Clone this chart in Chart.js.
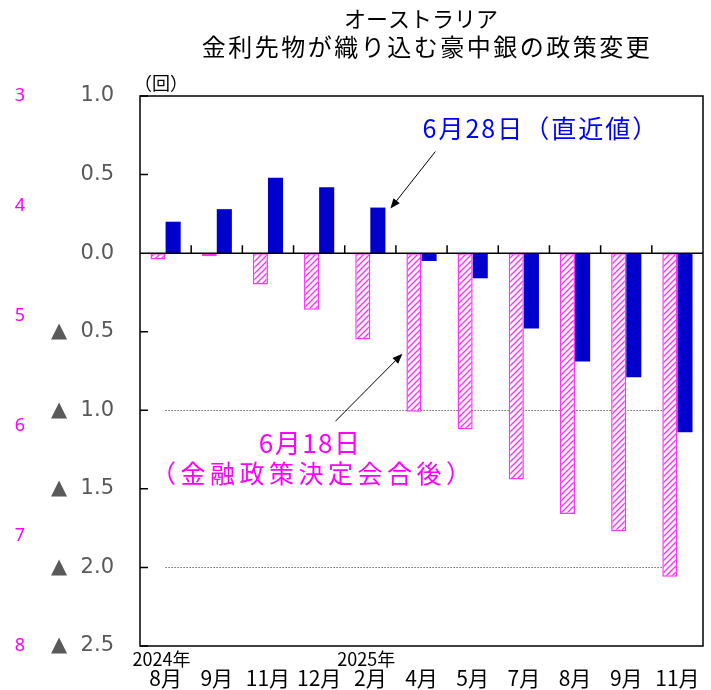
<!DOCTYPE html>
<html lang="ja">
<head>
<meta charset="UTF-8" />
<title>オーストラリア 金利先物が織り込む豪中銀の政策変更</title>
<script src="https://cdn.jsdelivr.net/npm/chart.js"></script>
<style>
  body { margin: 0; background: #fff; }
  .wrap { width: 711px; height: 690px; position: relative; }
</style>
</head>
<body>
<div class="wrap"><canvas id="rbaChart" width="711" height="690"></canvas></div>
<script>
  // data
  const years = ['2024年', '', '', '', '2025年', '', '', '', '', '', ''];
  const months = ['8月', '9月', '11月', '12月', '2月', '4月', '5月', '7月', '8月', '9月', '11月'];
  const after0618 = [-0.04, -0.02, -0.20, -0.36, -0.55, -1.01, -1.12, -1.44, -1.66, -1.77, -2.06];
  const latest0628 = [0.20, 0.28, 0.48, 0.42, 0.29, -0.05, -0.16, -0.48, -0.69, -0.79, -1.14];
  const refLines = [-1.0, -2.0];

  // blank first line leaves room for the year row drawn below
  const labels = months.map(m => [' ', m]);

  const JP = "'Noto Sans CJK JP', 'Noto Sans', sans-serif";
  const PINK = '#ff33ff';
  const BLUE = '#0000cc';

  // diagonal hatch for the 6/18 bars
  function hatch() {
    const c = document.createElement('canvas');
    c.width = 6; c.height = 6;
    const g = c.getContext('2d');
    g.fillStyle = '#fff';
    g.fillRect(0, 0, 6, 6);
    g.strokeStyle = PINK;
    g.lineWidth = 1.4;
    g.beginPath();
    g.moveTo(-3, 3); g.lineTo(3, -3);
    g.moveTo(0, 6); g.lineTo(6, 0);
    g.moveTo(3, 9); g.lineTo(9, 3);
    g.stroke();
    return g.createPattern(c, 'repeat');
  }

  function arrow(ctx, x1, y1, x2, y2) {
    const a = Math.atan2(y2 - y1, x2 - x1);
    ctx.save();
    ctx.strokeStyle = '#000';
    ctx.fillStyle = '#000';
    ctx.lineWidth = 1;
    ctx.beginPath();
    ctx.moveTo(x1, y1);
    ctx.lineTo(x2 - 6 * Math.cos(a), y2 - 6 * Math.sin(a));
    ctx.stroke();
    ctx.beginPath();
    ctx.moveTo(x2, y2);
    ctx.lineTo(x2 - 10 * Math.cos(a) + 4 * Math.sin(a), y2 - 10 * Math.sin(a) - 4 * Math.cos(a));
    ctx.lineTo(x2 - 10 * Math.cos(a) - 4 * Math.sin(a), y2 - 10 * Math.sin(a) + 4 * Math.cos(a));
    ctx.closePath();
    ctx.fill();
    ctx.restore();
  }

  function text(ctx, str, x, y, font, color, spacing) {
    ctx.save();
    ctx.font = font;
    ctx.fillStyle = color;
    ctx.textAlign = 'center';
    ctx.textBaseline = 'middle';
    ctx.letterSpacing = (spacing || 0) + 'px';
    ctx.fillText(str, x, y);
    ctx.restore();
  }

  const framePlugin = {
    id: 'frame',
    beforeDatasetsDraw(chart) {
      const { ctx, scales: { x, y } } = chart;
      ctx.save();
      ctx.strokeStyle = '#222';
      ctx.lineWidth = 1;
      ctx.setLineDash([1, 2]);
      refLines.forEach(v => {
        const py = Math.round(y.getPixelForValue(v)) + 0.5;
        ctx.beginPath();
        ctx.moveTo(x.getPixelForValue(0), py);
        ctx.lineTo(x.getPixelForValue(months.length - 1), py);
        ctx.stroke();
      });
      ctx.restore();
    },
    afterDatasetsDraw(chart) {
      const { ctx, chartArea: a, scales: { x, y } } = chart;
      ctx.save();
      ctx.strokeStyle = '#000';
      ctx.lineWidth = 1.5;
      ctx.strokeRect(a.left, a.top, a.right - a.left, a.bottom - a.top);

      // zero line with category ticks
      const y0 = y.getPixelForValue(0);
      ctx.beginPath();
      ctx.moveTo(a.left, y0);
      ctx.lineTo(a.right, y0);
      const step = (a.right - a.left) / months.length;
      for (let i = 1; i < months.length; i++) {
        const px = a.left + i * step;
        ctx.moveTo(px, y0);
        ctx.lineTo(px, y0 - 8);
      }
      // inner y ticks
      for (let v = -2.5; v <= 1.0001; v += 0.5) {
        const py = y.getPixelForValue(v);
        ctx.moveTo(a.left, py);
        ctx.lineTo(a.left + 8, py);
      }
      ctx.stroke();
      ctx.restore();

      // year row above the month labels
      years.forEach((yr, i) => {
        if (yr) text(ctx, yr, x.getPixelForValue(i) - 4, a.bottom + 13, '18px ' + JP, '#000', 0);
      });

      // annotations
      const half = step * 0.59 / 2;
      const febTop = y.getPixelForValue(latest0628[4]);
      arrow(ctx, x.getPixelForValue(4) + 65, febTop - 56, x.getPixelForValue(4) + half + 5, febTop + 1);
      text(ctx, '6月28日（直近値）', x.getPixelForValue(7) + 17, 128, '25px ' + JP, '#0000ff', 2);

      const aprPink = x.getPixelForValue(5) - half;
      arrow(ctx, aprPink - 71, y.getPixelForValue(-1.07), aprPink - 4, y.getPixelForValue(-0.64));
      text(ctx, '6月18日', x.getPixelForValue(3) - 9, 443, '26px ' + JP, '#ff00ff', 1.5);
      text(ctx, '（金融政策決定会合後）', x.getPixelForValue(3) - 6, 473, '25px ' + JP, '#ff00ff', 4.5);

      // title and unit
      text(ctx, 'オーストラリア', 421, 19, '22px ' + JP, '#000', 0);
      text(ctx, '金利先物が織り込む豪中銀の政策変更', 427, 47, '24px ' + JP, '#000', 2.5);
      ctx.save();
      ctx.font = '18px ' + JP;
      ctx.fillStyle = '#000';
      ctx.textBaseline = 'middle';
      ctx.fillText('（回）', a.left - 6, 83);
      ctx.restore();
    }
  };

  new Chart(document.getElementById('rbaChart'), {
    type: 'bar',
    data: {
      labels: labels,
      datasets: [
        {
          label: '6月18日（金融政策決定会合後）',
          data: after0618,
          backgroundColor: hatch(),
          borderColor: PINK,
          borderWidth: 1.5,
          borderSkipped: false,
          categoryPercentage: 0.59,
          barPercentage: 1.0
        },
        {
          label: '6月28日（直近値）',
          data: latest0628,
          backgroundColor: BLUE,
          borderWidth: 0,
          categoryPercentage: 0.59,
          barPercentage: 1.0
        }
      ]
    },
    options: {
      responsive: false,
      animation: false,
      layout: { padding: { top: 96, right: 8, left: 0, bottom: 0 } },
      plugins: {
        legend: { display: false },
        tooltip: { enabled: false }
      },
      scales: {
        x: {
          grid: { display: false, drawTicks: false },
          border: { display: false },
          ticks: {
            color: '#000',
            font: { family: JP, size: 21, lineHeight: 1.0 },
            padding: 1,
            maxRotation: 0,
            autoSkip: false
          },
          afterFit: s => { s.height = 44; }
        },
        y: {
          position: 'left',
          weight: 0,
          min: -2.5,
          max: 1.0,
          grid: { display: false, drawTicks: false },
          border: { display: false },
          ticks: {
            stepSize: 0.5,
            color: '#595959',
            font: { family: "'DejaVu Sans', sans-serif", size: 21 },
            padding: 26,
            callback: v => v < 0 ? '▲  ' + Math.abs(v).toFixed(1) : v.toFixed(1)
          },
          afterFit: s => { s.width = 100; }
        },
        y2: {
          position: 'left',
          weight: 1,
          reverse: true,
          min: 3,
          max: 8,
          grid: { display: false, drawTicks: false },
          border: { display: false },
          ticks: {
            stepSize: 1,
            color: '#ff00ff',
            font: { family: "'Noto Sans', sans-serif", size: 18 },
            padding: 15
          },
          afterFit: s => { s.width = 40; }
        }
      }
    },
    plugins: [framePlugin]
  });
</script>
</body>
</html>
